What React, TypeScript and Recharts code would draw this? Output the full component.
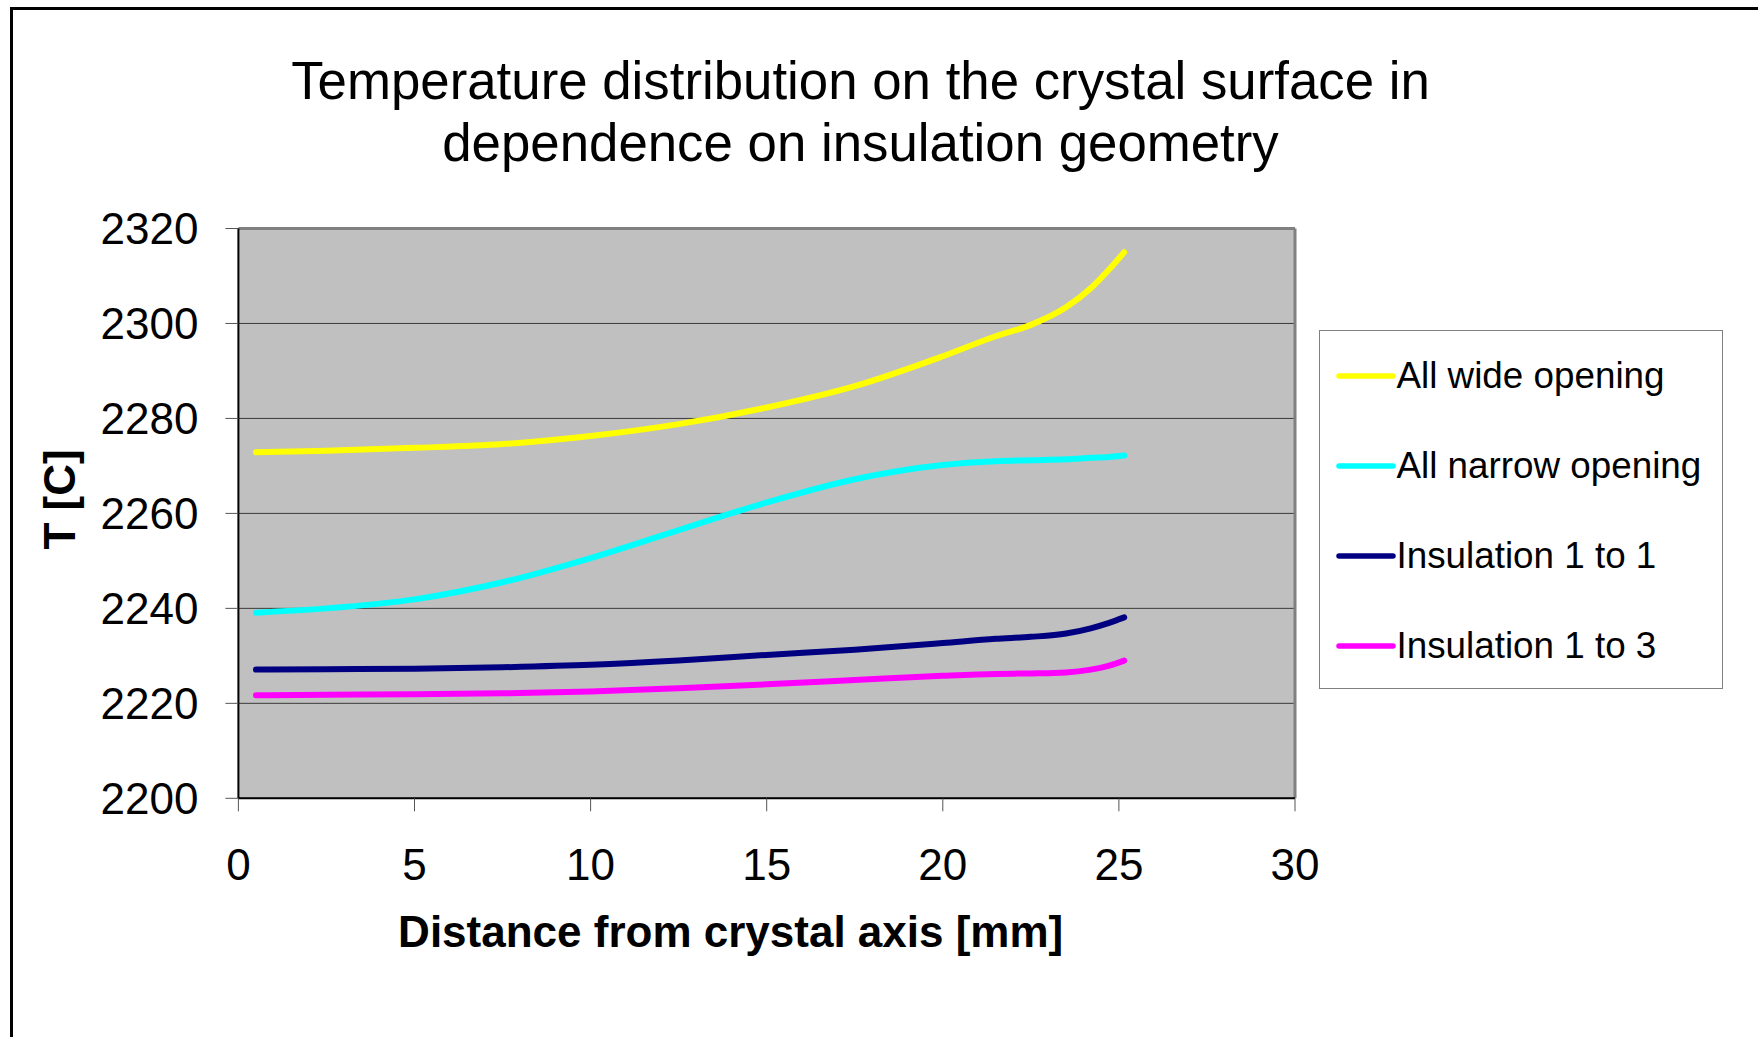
import {
  LineChart, Line, XAxis, YAxis, CartesianGrid, Legend, Label, ReferenceLine,
} from 'recharts';

const FONT = '"Liberation Sans", Arial, sans-serif';

// distance from crystal axis [mm]
const DIST = [0.5, 2.5, 5, 7.5, 10, 12.5, 15, 17.5, 20, 21.5, 22.5, 23.5, 24.2, 24.7, 25.15];

// surface temperature [C]
const WIDE = [2272.9, 2273.2, 2273.8, 2274.6, 2276.3, 2278.8, 2282.3, 2286.8, 2293.1, 2297.3, 2299.7, 2303.4, 2307.4, 2311.2, 2315.0];
const NARROW = [2239.1, 2240.0, 2241.9, 2245.5, 2250.6, 2256.5, 2262.3, 2267.2, 2270.2, 2271.0, 2271.2, 2271.4, 2271.7, 2271.9, 2272.2];
const INS_1_1 = [2227.1, 2227.2, 2227.3, 2227.6, 2228.1, 2229.0, 2230.2, 2231.3, 2232.7, 2233.6, 2234.0, 2234.7, 2235.8, 2236.9, 2238.1];
const INS_1_3 = [2221.7, 2221.8, 2221.9, 2222.1, 2222.5, 2223.2, 2224.0, 2224.9, 2225.8, 2226.2, 2226.3, 2226.5, 2227.1, 2227.9, 2229.0];

const X_TICKS = [0, 5, 10, 15, 20, 25, 30];
const Y_TICKS = [2200, 2220, 2240, 2260, 2280, 2300, 2320];

const SERIES = [
  { key: 'wide', name: 'All wide opening', color: '#FFFF00' },
  { key: 'narrow', name: 'All narrow opening', color: '#00FFFF' },
  { key: 'ins11', name: 'Insulation 1 to 1', color: '#000080' },
  { key: 'ins13', name: 'Insulation 1 to 3', color: '#FF00FF' },
];

const data = DIST.map((x, i) => ({
  x,
  wide: WIDE[i],
  narrow: NARROW[i],
  ins11: INS_1_1[i],
  ins13: INS_1_3[i],
}));

// boxed legend on the right, like the old spreadsheet chart
function LegendBox() {
  return (
    <div
      style={{
        width: 404, height: 359, boxSizing: 'border-box', border: '1px solid #808080',
        background: '#fff', fontFamily: FONT, fontSize: 36.8, color: '#000',
      }}
    >
      {SERIES.map((s) => (
        <div key={s.key} style={{ height: 90, display: 'flex', alignItems: 'center', whiteSpace: 'nowrap' }}>
          <svg width={77} height={10} style={{ flexShrink: 0 }}>
            <line x1={19} y1={5} x2={73} y2={5} stroke={s.color} strokeWidth={5.5} strokeLinecap="round" />
          </svg>
          <span>{s.name}</span>
        </div>
      ))}
    </div>
  );
}

export default function App() {
  const tick = { fill: '#000', fontSize: 44, fontFamily: FONT };
  return (
    <div style={{ position: 'fixed', left: 0, top: 0, width: 1758, height: 1037, overflow: 'hidden', background: '#fff' }}>
      <div
        style={{
          position: 'absolute', left: 10, top: 7, width: 1800, height: 1100,
          border: '3px solid #000', boxSizing: 'border-box',
        }}
      />
      <div
        style={{
          position: 'absolute', left: 0, top: 50, width: 1721, textAlign: 'center',
          fontFamily: FONT, fontSize: 52.8, lineHeight: '62px', color: '#000', whiteSpace: 'nowrap',
        }}
      >
        Temperature distribution on the crystal surface in
        <br />
        dependence on insulation geometry
      </div>
      <div style={{ position: 'absolute', left: 0, top: 0 }}>
        <LineChart
          width={1758}
          height={1037}
          data={data}
          margin={{ top: 228.5, right: 463, bottom: 88.7, left: 0 }}
        >
          <CartesianGrid fill="#C0C0C0" stroke="#3a3a3a" strokeWidth={1} vertical={false} />
          <ReferenceLine y={2320} stroke="#808080" strokeWidth={3} />
          <ReferenceLine x={30} stroke="#808080" strokeWidth={3} />
          <XAxis
            type="number"
            dataKey="x"
            domain={[0, 30]}
            ticks={X_TICKS}
            height={150}
            tickSize={13}
            tickMargin={37}
            tick={tick}
            axisLine={{ stroke: '#000', strokeWidth: 2 }}
            tickLine={{ stroke: '#555' }}
          >
            <Label
              value="Distance from crystal axis [mm]"
              position="center"
              dx={-36}
              dy={58}
              style={{ fill: '#000', fontSize: 44, fontWeight: 'bold', fontFamily: FONT }}
            />
          </XAxis>
          <YAxis
            type="number"
            domain={[2200, 2320]}
            ticks={Y_TICKS}
            width={238.4}
            tickSize={13}
            tickMargin={27}
            tick={tick}
            axisLine={{ stroke: '#000', strokeWidth: 2 }}
            tickLine={{ stroke: '#555' }}
          >
            <Label
              value="T [C]"
              position="center"
              angle={-90}
              dx={-60}
              dy={-14}
              style={{ fill: '#000', fontSize: 44, fontWeight: 'bold', fontFamily: FONT }}
            />
          </YAxis>
          {SERIES.map((s) => (
            <Line
              key={s.key}
              type="monotone"
              dataKey={s.key}
              name={s.name}
              stroke={s.color}
              strokeWidth={6}
              strokeLinecap="round"
              dot={false}
              isAnimationActive={false}
            />
          ))}
          <Legend
            layout="horizontal"
            verticalAlign="middle"
            content={() => <LegendBox />}
            wrapperStyle={{ left: 1318.5, top: 329.5, width: 404, height: 359 }}
          />
        </LineChart>
      </div>
    </div>
  );
}
